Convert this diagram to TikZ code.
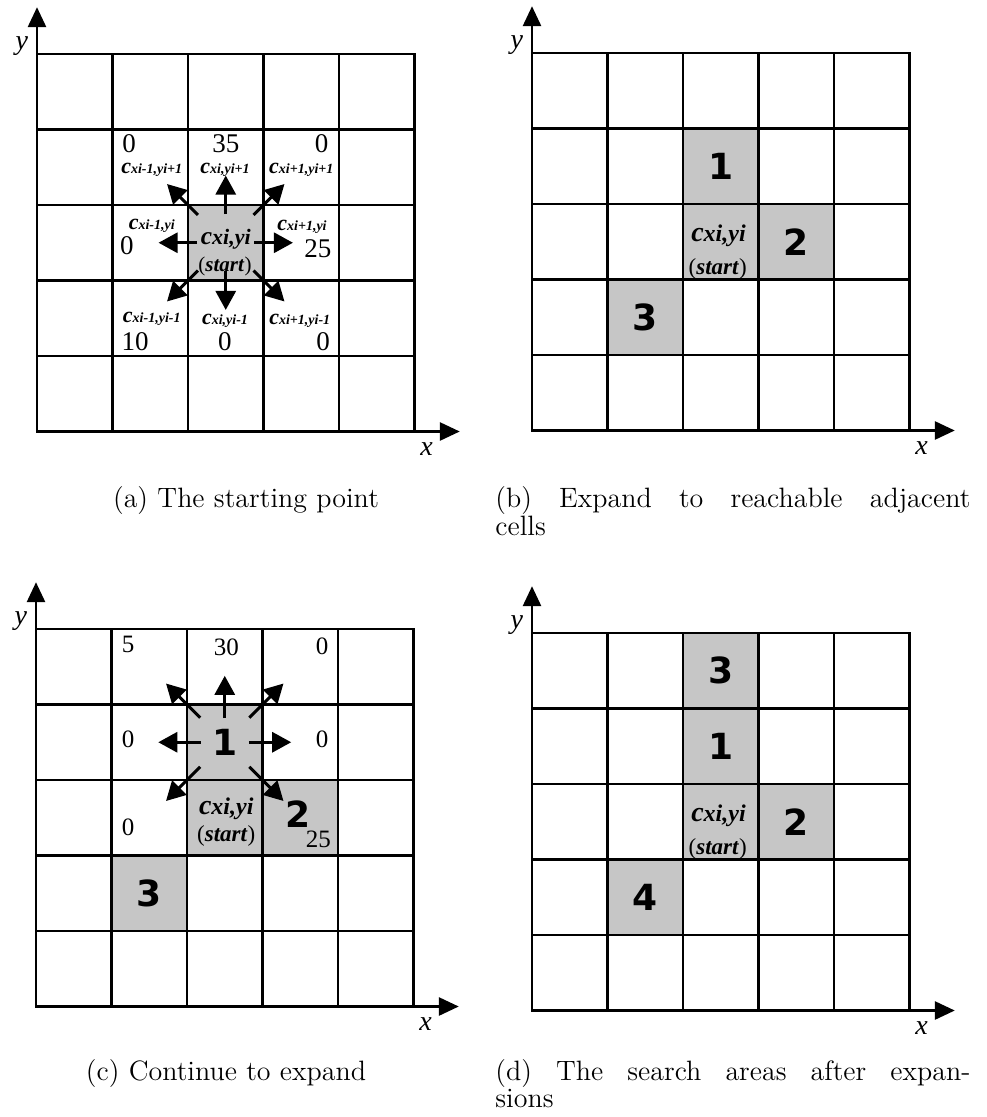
\documentclass[tikz,border=0pt]{standalone}
\usepackage{fontspec}
\usetikzlibrary{arrows.meta, positioning}
\newfontfamily\gridfont{Liberation Serif}
\newfontfamily\digitfont{DejaVu Sans}
\definecolor{cellgray}{HTML}{C6C6C6}

% c with its index, big c and small index on one baseline
\newcommand{\cxy}[3]{{\bfseries\itshape\fontsize{#1}{#1}\selectfont c\fontsize{#2}{#2}\selectfont #3}}
\newcommand{\starttag}[1]{{\fontsize{#1}{#1}\selectfont(\textbf{\textit{start}})}}

% 5x5 grid with the two axes, in cell units
\newcommand{\drawpanel}[1]{%
  \foreach \k in {0,...,5} {
    \draw[gridline] (\k,0) -- (\k,5);
    \draw[gridline] (0,\k) -- (5,\k);
  }
  \coordinate (#1-origin) at (0,5);
  \coordinate (#1-ytip) at (0,-0.62);
  \coordinate (#1-xtip) at (5.6,5);
  \draw[axis] (#1-origin) -- (#1-ytip);
  \draw[axis] (#1-origin) -- (#1-xtip);
  \node[axlabel] (#1-ylabel) at (-0.2,-0.11) {y};
  \node[axlabel] (#1-xlabel) at (5.16,5.23) {x};
}

\begin{document}
\begin{tikzpicture}[
  x=0.5pt, y=-0.5pt,
  gridline/.style={line width=1.4pt, line cap=rect},
  axis/.style={line width=1.4pt, -{Triangle[length=10pt,width=9pt]}},
  arrow/.style={line width=1.5pt, -{Triangle[length=9.5pt,width=10pt]}},
  shaded/.style={fill=cellgray, minimum size=37.75pt, inner sep=0pt},
  cost/.style={font=\gridfont\fontsize{13.5}{13.5}\selectfont, inner sep=0pt},
  smallcost/.style={font=\gridfont\fontsize{12.5}{12.5}\selectfont, inner sep=0pt},
  cname/.style={font=\gridfont, inner sep=0pt},
  order/.style={font=\digitfont\bfseries\fontsize{18}{18}\selectfont},
  axlabel/.style={font=\gridfont\itshape\fontsize{14}{14}\selectfont, inner sep=0pt},
  caption/.style={font=\fontsize{14}{12}\selectfont, text width=237.5pt, inner sep=0pt}
]
  \useasboundingbox (0,0) rectangle (986,1117);

  % (a) the starting point
  \begin{scope}[shift={(37,54)}, x=37.75pt, y=-37.75pt]
    \node[shaded] (a-start) at (2.5,2.5) {};
    \drawpanel{a}
    \node[cname] (a-start-name) at (2.5,2.46) {\cxy{12.7}{11}{xi,yi}};
    \node[cname] (a-start-tag) at (2.49,2.82) {\starttag{10.5}};
    \node[cost] (a-nw-cost) at (1.22,1.19) {0};
    \node[cname] (a-nw-name) at (1.52,1.53) {\cxy{11}{7}{xi-1,yi+1}};
    \node[cost] (a-n-cost) at (2.5,1.19) {35};
    \node[cname] (a-n-name) at (2.49,1.53) {\cxy{11}{7}{xi,yi+1}};
    \node[cost] (a-ne-cost) at (3.77,1.19) {0};
    \node[cname] (a-ne-name) at (3.5,1.53) {\cxy{11}{7}{xi+1,yi+1}};
    \node[cname] (a-w-name) at (1.52,2.28) {\cxy{11}{7}{xi-1,yi}};
    \node[cost] (a-w-cost) at (1.19,2.54) {0};
    \node[cname] (a-e-name) at (3.51,2.29) {\cxy{11}{7}{xi+1,yi}};
    \node[cost] (a-e-cost) at (3.72,2.58) {25};
    \node[cname] (a-sw-name) at (1.52,3.51) {\cxy{11}{7}{xi-1,yi-1}};
    \node[cost] (a-sw-cost) at (1.3,3.81) {10};
    \node[cname] (a-s-name) at (2.49,3.54) {\cxy{11}{7}{xi,yi-1}};
    \node[cost] (a-s-cost) at (2.49,3.81) {0};
    \node[cname] (a-se-name) at (3.48,3.54) {\cxy{11}{7}{xi+1,yi-1}};
    \node[cost] (a-se-cost) at (3.79,3.81) {0};
    \foreach \a in {0,90,180,270}
      \draw[arrow] ([shift={(\a:0.38)}]a-start.center) -- ([shift={(\a:0.89)}]a-start.center);
    \foreach \a in {45,135,225,315}
      \draw[arrow] ([shift={(\a:0.52)}]a-start.center) -- ([shift={(\a:1.1)}]a-start.center);
  \end{scope}

  % (b) expand to the reachable cells
  \begin{scope}[shift={(532,53)}, x=37.75pt, y=-37.75pt]
    \node[shaded] (b-start) at (2.5,2.5) {};
    \node[shaded, order] (b-one) at (2.5,1.5) {1};
    \node[shaded, order] (b-two) at (3.5,2.5) {2};
    \node[shaded, order] (b-three) at (1.5,3.5) {3};
    \drawpanel{b}
    \node[cname] (b-start-name) at (2.47,2.42) {\cxy{14}{12}{xi,yi}};
    \node[cname] (b-start-tag) at (2.46,2.86) {\starttag{11.5}};
  \end{scope}

  % (c) continue from cell 1
  \begin{scope}[shift={(36,629)}, x=37.75pt, y=-37.75pt]
    \node[shaded, order] (c-one) at (2.5,1.5) {1};
    \node[shaded] (c-start) at (2.5,2.5) {};
    \node[shaded] (c-two) at (3.5,2.5) {};
    \node[shaded, order] (c-three) at (1.5,3.5) {3};
    \drawpanel{c}
    \node[cname] (c-start-name) at (2.52,2.38) {\cxy{14}{12}{xi,yi}};
    \node[cname] (c-start-tag) at (2.52,2.74) {\starttag{11.5}};
    \node[order, inner sep=0pt] (c-two-label) at (3.47,2.45) {2};
    \node[smallcost] (c-nw-cost) at (1.22,0.21) {5};
    \node[smallcost] (c-n-cost) at (2.52,0.24) {30};
    \node[smallcost] (c-ne-cost) at (3.79,0.23) {0};
    \node[smallcost] (c-w-cost) at (1.22,1.46) {0};
    \node[smallcost] (c-e-cost) at (3.79,1.46) {0};
    \node[smallcost] (c-sw-cost) at (1.22,2.62) {0};
    \node[smallcost] (c-se-cost) at (3.74,2.78) {25};
    \foreach \a in {0,180,270}
      \draw[arrow] ([shift={(\a:0.32)}]c-one.center) -- ([shift={(\a:0.88)}]c-one.center);
    \foreach \a in {45,135,225,315}
      \draw[arrow] ([shift={(\a:0.46)}]c-one.center) -- ([shift={(\a:1.1)}]c-one.center);
  \end{scope}

  % (d) the searched cells
  \begin{scope}[shift={(532,633)}, x=37.75pt, y=-37.75pt]
    \node[shaded, order] (d-three) at (2.5,0.5) {3};
    \node[shaded, order] (d-one) at (2.5,1.5) {1};
    \node[shaded] (d-start) at (2.5,2.5) {};
    \node[shaded, order] (d-two) at (3.5,2.5) {2};
    \node[shaded, order] (d-four) at (1.5,3.5) {4};
    \drawpanel{d}
    \node[cname] (d-start-name) at (2.47,2.42) {\cxy{14}{12}{xi,yi}};
    \node[cname] (d-start-tag) at (2.46,2.86) {\starttag{11.5}};
  \end{scope}

  % captions
  \node[caption, align=center, anchor=north] (cap-a) at (246,486) {(a) The starting point};
  \node[caption, align=justify, anchor=north west] (cap-b) at (495,486) {(b) Expand to reachable adjacent\linebreak cells};
  \node[caption, align=center, anchor=north] (cap-c) at (226,1059) {(c) Continue to expand};
  \node[caption, align=justify, anchor=north west] (cap-d) at (495,1059) {(d) The search areas after expan-\linebreak sions};
\end{tikzpicture}
\end{document}
